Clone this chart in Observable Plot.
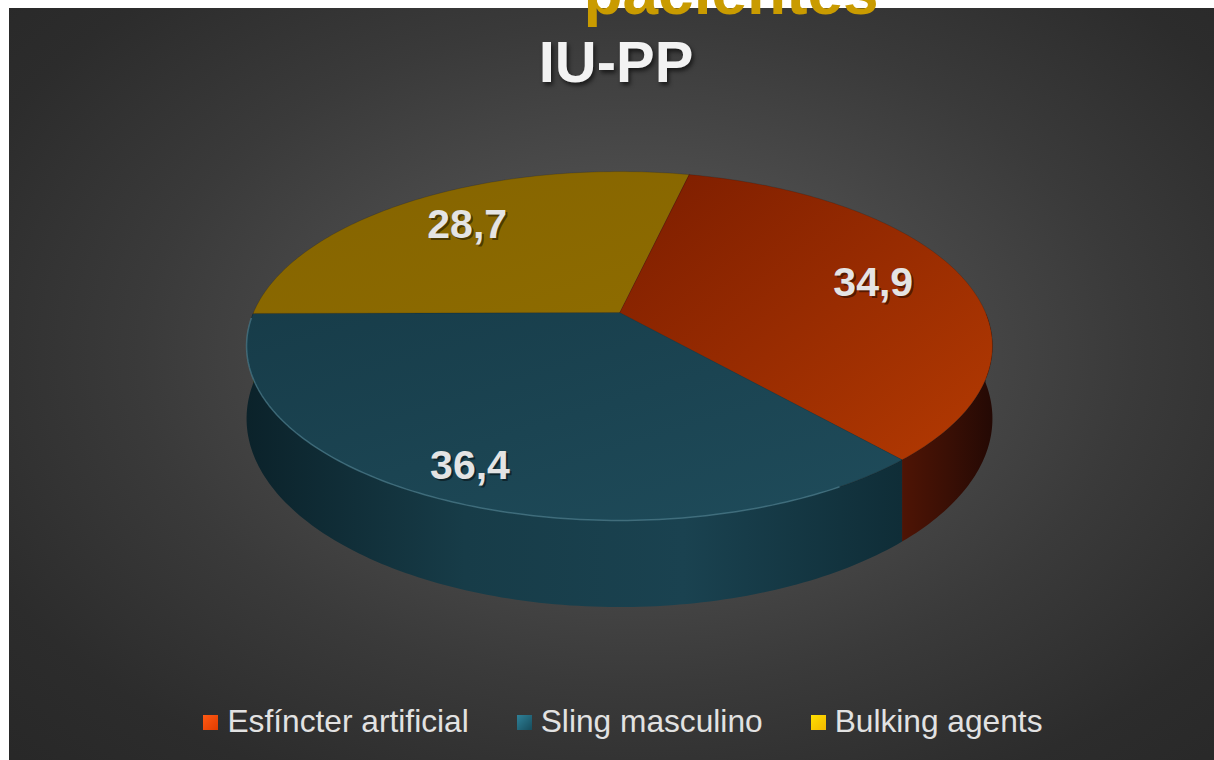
<!DOCTYPE html>
<html>
<head>
<meta charset="utf-8">
<script src="https://cdn.jsdelivr.net/npm/d3@7"></script>
<script src="https://cdn.jsdelivr.net/npm/@observablehq/plot@0.6"></script>
<style>
  html, body { margin: 0; padding: 0; background: #ffffff; }
  #wrap { position: relative; width: 1214px; height: 760px; overflow: hidden; font-family: "Liberation Sans", Arial, sans-serif; }
  #bg { position: absolute; left: 9px; top: 8px; right: 0; bottom: 0;
        background: radial-gradient(ellipse 75% 80% at 52% 46%, #5a5a5a 0%, #4b4b4b 30%, #3a3a3a 55%, #2c2c2c 80%, #272727 100%); }
  #chart { position: absolute; left: 0; top: 0; }
  .title { position: absolute; left: 0; width: 1214px; text-align: center; font-weight: bold; white-space: nowrap; }
  #t1 { top: -40px; font-size: 64px; line-height: 64px; color: #c99b00; left: 124px; }
  #t2 { top: 33px; font-size: 58px; line-height: 58px; color: #f2f2f2; left: 9px; text-shadow: 2px 3px 4px rgba(0,0,0,0.6); }
  #legend { position: absolute; left: 16px; width: 1214px; top: 705px; display: flex; justify-content: center; align-items: center; font-size: 31.7px; line-height: 32px; color: #e2e2e2; }
  .item { display: flex; align-items: center; margin: 0 24px; }
  .sw { width: 15px; height: 15px; margin-right: 9px; margin-top: 2px; }
</style>
</head>
<body>
<div id="wrap">
  <div id="bg"></div>
  <div id="chart"></div>
  <div class="title" id="t1">pacientes</div>
  <div class="title" id="t2">IU-PP</div>
  <div id="legend"></div>
</div>
<script>
// ---- data ----
const categories = ["Esfíncter artificial", "Sling masculino", "Bulking agents"];
const values = [34.9, 36.4, 28.7];
const valueLabels = ["34,9", "36,4", "28,7"];
const topColors = [["#7c1d00", "#b43a02"], ["#173c49", "#1f4c5b"], ["#846300", "#8e6c00"]];
const wallColors = [["#4e1405", "#3a0f05", "#240904"], ["#0b222a", "#173c48", "#1a4250", "#0f2d37"], ["#5a4400", "#5a4400", "#5a4400"]];
const legendColors = [["#ff5a14", "#e03c00"], ["#2f8198", "#164c5c"], ["#ffe000", "#f2b800"]];

// ---- geometry (3D pie with perspective) ----
const cx = 619, cy = 312, R = 366, Ry = 168, persp = 0.192, depth = 70, firstAngle = 13;
function proj(deg, r = 1, down = 0) {
  const t = deg * Math.PI / 180;
  const X = r * Math.sin(t), Z = r * Math.cos(t);
  const s = 1 / (1 + persp * Math.cos(t));
  const sr = 1 / (1 + persp * Z);
  return {x: cx + R * X * sr, y: cy - Ry * Z * sr + down * s};
}
function arc(a0, a1, r = 1, down = 0) {
  const n = Math.max(2, Math.ceil(Math.abs(a1 - a0)));
  return d3.range(n + 1).map(i => proj(a0 + (a1 - a0) * i / n, r, down));
}

const total = d3.sum(values);
let cum = 0;
const slices = values.map((v, i) => {
  const a0 = firstAngle + 360 * cum / total;
  cum += v;
  const a1 = firstAngle + 360 * cum / total;
  return {i, a0, a1, mid: (a0 + a1) / 2};
});

const marks = [];
// walls (front half)
slices.forEach(s => {
  const lo = Math.max(s.a0, 90), hi = Math.min(s.a1, 270);
  if (hi > lo) {
    const poly = [...arc(lo, hi, 1, 0), ...arc(hi, lo, 1, depth)];
    marks.push(Plot.line(poly, {x: "x", y: "y", fill: `url(#wall${s.i})`, stroke: "none", curve: "linear-closed"}));
  }
});
// top faces
slices.forEach(s => {
  const poly = [{x: cx, y: cy}, ...arc(s.a0, s.a1, 1, 0)];
  marks.push(Plot.line(poly, {x: "x", y: "y", fill: `url(#top${s.i})`, stroke: "rgba(0,0,0,0.18)", strokeWidth: 0.8, curve: "linear-closed"}));
});
// front edge highlight on top face
marks.push(Plot.line(arc(Math.max(slices[1].a0, 150), 268, 1, 0), {x: "x", y: "y", stroke: "#5b93a6", strokeOpacity: 0.55, strokeWidth: 1.5}));

// labels: placed further out for slices toward the viewer
const labelData = slices.map(s => {
  const front = Math.max(0, -Math.cos(s.mid * Math.PI / 180));
  return {...proj(s.mid, 0.74 + 0.12 * front), label: valueLabels[s.i]};
});
const font = "'Liberation Sans', Arial, sans-serif";
marks.push(Plot.text(labelData, {x: "x", y: "y", text: "label", dx: 2, dy: 2, fontSize: 41, fontWeight: "bold", fontFamily: font, fill: "#000", fillOpacity: 0.45}));
marks.push(Plot.text(labelData, {x: "x", y: "y", text: "label", fontSize: 41, fontWeight: "bold", fontFamily: font, fill: "#e4e4e4"}));

const svg = Plot.plot({
  width: 1214, height: 760, margin: 0,
  style: {background: "transparent", overflow: "visible"},
  x: {domain: [0, 1214], range: [0, 1214], axis: null},
  y: {domain: [0, 760], range: [0, 760], axis: null},
  marks
});

// gradients
const defs = d3.select(svg).insert("defs", ":first-child");
topColors.forEach((c, i) => {
  const g = defs.append("linearGradient").attr("id", `top${i}`).attr("x1", 0).attr("y1", 0).attr("x2", 1).attr("y2", 1);
  g.append("stop").attr("offset", 0).attr("stop-color", c[0]);
  g.append("stop").attr("offset", 1).attr("stop-color", c[1]);
});
wallColors.forEach((c, i) => {
  const g = defs.append("linearGradient").attr("id", `wall${i}`).attr("x1", 0).attr("y1", 0).attr("x2", 1).attr("y2", 0);
  c.forEach((col, k) => g.append("stop").attr("offset", k / (c.length - 1)).attr("stop-color", col));
});
document.getElementById("chart").appendChild(svg);

// legend
const legend = d3.select("#legend");
categories.forEach((name, i) => {
  const it = legend.append("div").attr("class", "item");
  it.append("div").attr("class", "sw")
    .style("background", `linear-gradient(135deg, ${legendColors[i][0]}, ${legendColors[i][1]})`);
  it.append("span").text(name);
});
</script>
</body>
</html>
